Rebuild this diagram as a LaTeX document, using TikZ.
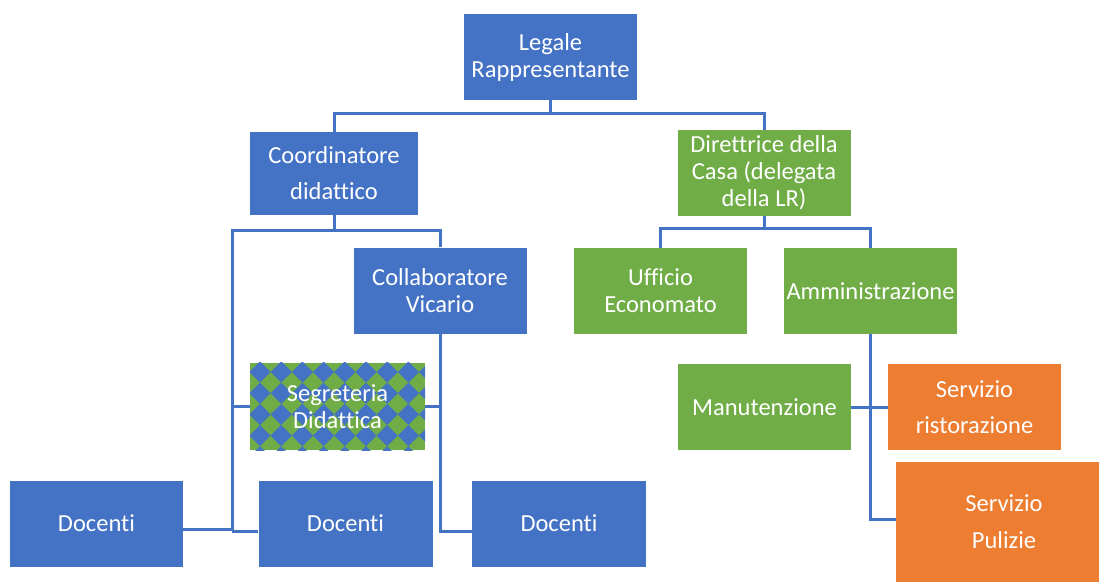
\documentclass[tikz,border=0pt]{standalone}
\usepackage{fontspec}
\setmainfont{Carlito}[Ligatures=NoCommon]
\definecolor{ofblue}{HTML}{4472C4}
\definecolor{ofgreen}{HTML}{70AD47}
\definecolor{oforange}{HTML}{ED7D31}
\begin{document}
\begin{tikzpicture}[line join=miter,x=1pt,y=-1pt,
  box/.style={rectangle,fill=#1,text=white,minimum width=173pt,minimum height=86pt,inner sep=1pt,align=center,font=\fontsize{24.5}{27}\selectfont},
  wide/.style={font=\fontsize{24.5}{36}\selectfont},
  conn/.style={draw=ofblue,line width=3pt}]
  \useasboundingbox (0,0) rectangle (1099,581);
  \node[box=ofblue] (legale) at (550.5,57) {Legale\\Rappresentante};
  \node[box=ofblue,wide,minimum width=168pt,minimum height=83pt] (coord) at (334,173.5) {Coordinatore\\didattico};
  \node[box=ofgreen] (dir) at (764,173) {Direttrice della\\Casa (delegata\\della LR)};
  \node[box=ofblue] (collab) at (440,290.5) {Collaboratore\\Vicario};
  \node[box=ofgreen] (uff) at (660.5,291) {Ufficio\\Economato};
  \node[box=ofgreen] (amm) at (870.5,291) {Amministrazione};
  \node[box=ofgreen,minimum width=175pt,minimum height=87pt] (segr) at (337.5,406.5) {};
  \begin{scope}
    \clip (segr.south west) rectangle (segr.north east);
    \foreach \i in {0,...,8}
      \foreach \j in {0,...,4}
        \fill[ofblue] (260+21.2*\i,372+21.2*\j) +(-10.6,0) -- +(0,-10.6) -- +(10.6,0) -- +(0,10.6) -- cycle;
  \end{scope}
  \node[box=ofgreen,fill=none] (segrtxt) at (segr) {Segreteria\\Didattica};
  \node[box=ofgreen] (man) at (764.5,407) {Manutenzione};
  \node[box=oforange,wide] (rist) at (974.5,407) {Servizio\\ristorazione};
  \node[box=oforange,font=\fontsize{24.5}{37}\selectfont,minimum width=216pt,minimum height=120pt] (pul) at (1004,522) {Servizio\\Pulizie};
  \node[box=ofblue] (doc1) at (96.5,523.5) {Docenti};
  \node[box=ofblue,minimum width=174pt] (doc2) at (345.5,523.5) {Docenti};
  \node[box=ofblue,minimum width=174pt] (doc3) at (559,523.5) {Docenti};
  \coordinate (crail) at (232,230);
  \draw[conn] (legale.south) -- ++(0,13) coordinate (lj);
  \draw[conn] (coord.north) |- (lj) -| (dir.north);
  \draw[conn] (coord.south) -- (coord.south |- crail);
  \draw[conn] ([yshift=-7.5pt]doc2.west -| crail) -- (crail) -| (collab.north);
  \draw[conn] ([yshift=-7.5pt]doc2.west -| crail) -- ([yshift=-7.5pt]doc2.west);
  \draw[conn] ([yshift=-5.5pt]doc1.east) -- ([yshift=-5.5pt]doc1.east -| crail);
  \draw[conn] (segr.west -| crail) -- (segr.west);
  \draw[conn] (segr.east) -- (segr.east -| collab.south);
  \draw[conn] (collab.south) |- ([yshift=-7.5pt]doc3.west);
  \draw[conn] (dir.south) -- ++(0,12) coordinate (dj);
  \draw[conn] (uff.north) |- (dj) -| (amm.north);
  \draw[conn] (amm.south) |- ([yshift=3pt]pul.west);
  \draw[conn] (man.east) -- (rist.west);
\end{tikzpicture}
\end{document}
